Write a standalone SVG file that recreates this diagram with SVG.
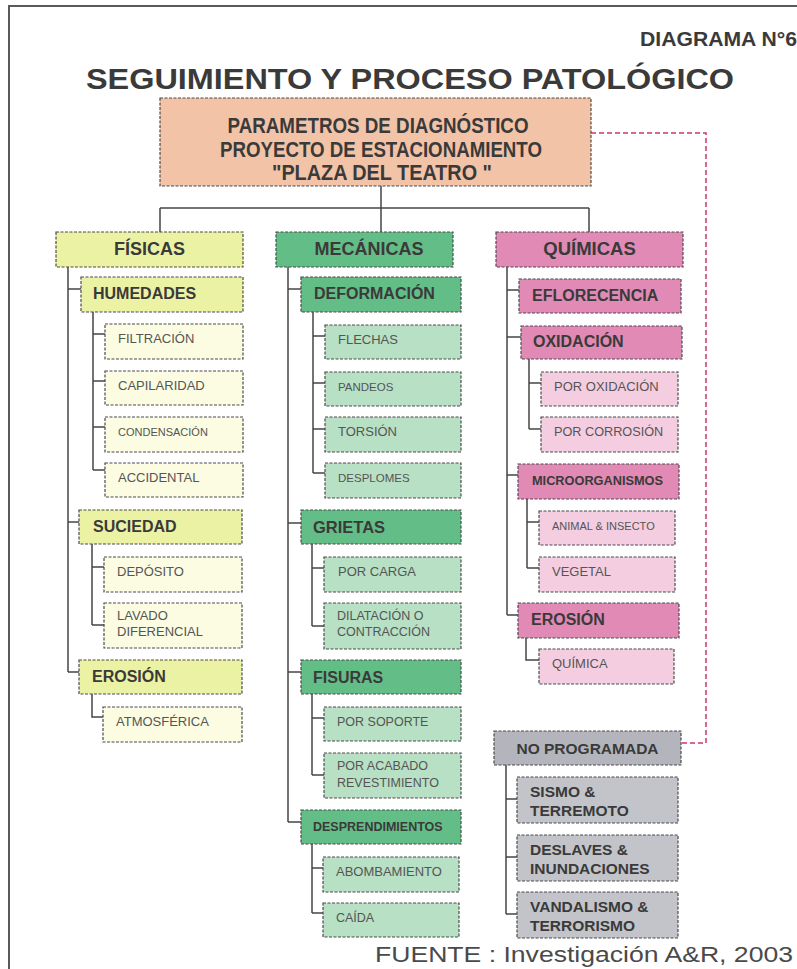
<svg xmlns="http://www.w3.org/2000/svg" width="797" height="969" viewBox="0 0 797 969">
  <style>
    text { font-family: "Liberation Sans", Arial, sans-serif; }
    .box { stroke: #4b4b4b; stroke-width: 1.2; stroke-dasharray: 3 1.5; }
    .root { fill: #f2c3a7; }
    .f1 { fill: #ecf2a4; }
    .f3 { fill: #fbfce2; }
    .m1 { fill: #63bd86; }
    .m3 { fill: #b7e0c4; }
    .q1 { fill: #e08ab5; }
    .q3 { fill: #f4cee0; }
    .g1 { fill: #b4b5bc; }
    .g2 { fill: #c3c4c9; }
    .t0 { font-weight: bold; font-size: 22px; fill: #3a3a3a; text-anchor: middle; }
    .t1 { font-weight: bold; font-size: 18px; fill: #3a3a3a; text-anchor: middle; }
    .t2 { font-weight: bold; font-size: 16px; fill: #3a3a3a; }
    .t3 { font-size: 13px; fill: #555555; }
    .tg { font-weight: bold; font-size: 15.5px; fill: #3a3a3a; }
    .conn { stroke: #454545; stroke-width: 1.5; fill: none; }
    .dash { stroke: #d0346a; stroke-width: 1.5; stroke-dasharray: 5 3; fill: none; }
  </style>

  <rect width="797" height="969" fill="#ffffff"/>
  <!-- page frame -->
  <path d="M9,969 V6 H797" fill="none" stroke="#5a5a5a" stroke-width="2"/>

  <!-- headings -->
  <text x="797" y="46" style="font-weight:bold;font-size:21px" fill="#3a3a3a" text-anchor="end" textLength="157" lengthAdjust="spacingAndGlyphs">DIAGRAMA N°6</text>
  <text x="86" y="89" style="font-weight:bold;font-size:29px" fill="#3a3a3a" textLength="648" lengthAdjust="spacingAndGlyphs">SEGUIMIENTO Y PROCESO PATOLÓGICO</text>
  <text x="375" y="962" style="font-size:22px" fill="#4a4a4a" textLength="418" lengthAdjust="spacingAndGlyphs">FUENTE : Investigación A&amp;R, 2003</text>

  <!-- connectors -->
  <g id="connectors">
    <path class="conn" d="M381,186 V208 M160,208 H589 M160,208 V232 M381,208 V232 M589,208 V232"/>
    <!-- físicas -->
    <path class="conn" d="M68,267 V672 M68,289 H81 M68,522 H79 M68,672 H79"/>
    <path class="conn" d="M93,312 V470 M93,334 H105 M93,381 H105 M93,427 H105 M93,470 H105"/>
    <path class="conn" d="M92,544 V625 M92,567 H104 M92,625 H104"/>
    <path class="conn" d="M92,694 V717 H103"/>
    <!-- mecánicas -->
    <path class="conn" d="M288,267 V822 M288,289 H301 M288,523 H301 M288,672 H301 M288,822 H301"/>
    <path class="conn" d="M313,312 V473 M313,336 H325 M313,383 H325 M313,429 H325 M313,473 H325"/>
    <path class="conn" d="M312,544 V626 M312,568 H324 M312,626 H324"/>
    <path class="conn" d="M312,694 V775 M312,718 H324 M312,775 H324"/>
    <path class="conn" d="M312,844 V913 M312,868 H323 M312,913 H323"/>
    <!-- químicas -->
    <path class="conn" d="M507,267 V615 M507,290 H519 M507,337 H521 M507,475 H518 M507,615 H518"/>
    <path class="conn" d="M529,359 V429 M529,383 H541 M529,429 H541"/>
    <path class="conn" d="M527,499 V568 M527,522 H539 M527,568 H539"/>
    <path class="conn" d="M526,638 V660 H539"/>
    <!-- no programada -->
    <path class="conn" d="M506,765 V914 M506,799 H517 M506,857 H517 M506,914 H517"/>
    <path class="dash" d="M591,133 H706 V743 H681"/>
  </g>

  <!-- root -->
  <g id="root">
    <rect class="box root" x="160" y="98" width="431" height="88"/>
    <text class="t0" x="378" y="133" textLength="301" lengthAdjust="spacingAndGlyphs">PARAMETROS DE DIAGNÓSTICO</text>
    <text class="t0" x="381" y="157" textLength="322" lengthAdjust="spacingAndGlyphs">PROYECTO DE ESTACIONAMIENTO</text>
    <text class="t0" x="382" y="180" textLength="220" lengthAdjust="spacingAndGlyphs">"PLAZA DEL TEATRO "</text>
  </g>

  <!-- FÍSICAS -->
  <g id="fisicas"><rect class="box f1" x="56" y="232" width="187" height="35"/><text class="t1" x="149.5" y="255">FÍSICAS</text></g>
  <g id="humedades"><rect class="box f1" x="81" y="277" width="162" height="35"/><text class="t2" x="93" y="299">HUMEDADES</text></g>
  <g id="filtracion"><rect class="box f3" x="105" y="324" width="138" height="35"/><text class="t3" x="118" y="343">FILTRACIÓN</text></g>
  <g id="capilaridad"><rect class="box f3" x="105" y="371" width="138" height="34"/><text class="t3" x="118" y="390">CAPILARIDAD</text></g>
  <g id="condensacion"><rect class="box f3" x="105" y="417" width="138" height="35"/><text class="t3" x="118" y="436" style="font-size:11px">CONDENSACIÓN</text></g>
  <g id="accidental"><rect class="box f3" x="105" y="463" width="138" height="34"/><text class="t3" x="118" y="482">ACCIDENTAL</text></g>
  <g id="suciedad"><rect class="box f1" x="79" y="510" width="163" height="34"/><text class="t2" x="93" y="532">SUCIEDAD</text></g>
  <g id="deposito"><rect class="box f3" x="104" y="557" width="138" height="35"/><text class="t3" x="117" y="576">DEPÓSITO</text></g>
  <g id="lavado"><rect class="box f3" x="104" y="603" width="138" height="45"/><text class="t3" x="117" y="620">LAVADO</text><text class="t3" x="117" y="636">DIFERENCIAL</text></g>
  <g id="erosion-f"><rect class="box f1" x="79" y="660" width="163" height="34"/><text class="t2" x="92" y="682">EROSIÓN</text></g>
  <g id="atmosferica"><rect class="box f3" x="103" y="707" width="139" height="35"/><text class="t3" x="116" y="726">ATMOSFÉRICA</text></g>

  <!-- MECÁNICAS -->
  <g id="mecanicas"><rect class="box m1" x="276" y="232" width="177" height="35"/><text class="t1" x="369" y="255">MECÁNICAS</text></g>
  <g id="deformacion"><rect class="box m1" x="301" y="277" width="160" height="35"/><text class="t2" x="314" y="299">DEFORMACIÓN</text></g>
  <g id="flechas"><rect class="box m3" x="325" y="325" width="136" height="34"/><text class="t3" x="338" y="344">FLECHAS</text></g>
  <g id="pandeos"><rect class="box m3" x="325" y="372" width="136" height="34"/><text class="t3" x="338" y="391" style="font-size:11.5px">PANDEOS</text></g>
  <g id="torsion"><rect class="box m3" x="325" y="417" width="136" height="35"/><text class="t3" x="338" y="436">TORSIÓN</text></g>
  <g id="desplomes"><rect class="box m3" x="325" y="463" width="136" height="35"/><text class="t3" x="338" y="482" style="font-size:11.5px">DESPLOMES</text></g>
  <g id="grietas"><rect class="box m1" x="301" y="510" width="160" height="34"/><text class="t2" x="313" y="533" style="font-size:16.5px">GRIETAS</text></g>
  <g id="por-carga"><rect class="box m3" x="324" y="557" width="137" height="35"/><text class="t3" x="338" y="576">POR CARGA</text></g>
  <g id="dilatacion"><rect class="box m3" x="324" y="603" width="137" height="46"/><text class="t3" x="337" y="620" style="font-size:12.5px">DILATACIÓN O</text><text class="t3" x="337" y="636" style="font-size:12.5px">CONTRACCIÓN</text></g>
  <g id="fisuras"><rect class="box m1" x="301" y="660" width="160" height="34"/><text class="t2" x="313" y="683">FISURAS</text></g>
  <g id="por-soporte"><rect class="box m3" x="324" y="707" width="137" height="34"/><text class="t3" x="337" y="726" style="font-size:12.5px">POR SOPORTE</text></g>
  <g id="por-acabado"><rect class="box m3" x="324" y="753" width="137" height="45"/><text class="t3" x="337" y="770" style="font-size:12.5px">POR ACABADO</text><text class="t3" x="337" y="787" style="font-size:12.5px">REVESTIMIENTO</text></g>
  <g id="desprendimientos"><rect class="box m1" x="301" y="810" width="160" height="34"/><text class="t2" x="313" y="831" style="font-size:12.5px">DESPRENDIMIENTOS</text></g>
  <g id="abombamiento"><rect class="box m3" x="323" y="857" width="136" height="35"/><text class="t3" x="336" y="876">ABOMBAMIENTO</text></g>
  <g id="caida"><rect class="box m3" x="323" y="903" width="136" height="34"/><text class="t3" x="336" y="922" style="font-size:12.5px">CAÍDA</text></g>

  <!-- QUÍMICAS -->
  <g id="quimicas"><rect class="box q1" x="496" y="232" width="187" height="35"/><text class="t1" x="589.5" y="255" style="font-size:18.5px">QUÍMICAS</text></g>
  <g id="eflorecencia"><rect class="box q1" x="519" y="279" width="162" height="34"/><text class="t2" x="532" y="301">EFLORECENCIA</text></g>
  <g id="oxidacion"><rect class="box q1" x="521" y="326" width="161" height="33"/><text class="t2" x="533" y="347">OXIDACIÓN</text></g>
  <g id="por-oxidacion"><rect class="box q3" x="541" y="372" width="137" height="34"/><text class="t3" x="554" y="391">POR OXIDACIÓN</text></g>
  <g id="por-corrosion"><rect class="box q3" x="541" y="417" width="137" height="35"/><text class="t3" x="554" y="436" style="font-size:12.7px">POR CORROSIÓN</text></g>
  <g id="microorganismos"><rect class="box q1" x="518" y="464" width="161" height="35"/><text class="t2" x="532" y="485" style="font-size:12.5px" textLength="131" lengthAdjust="spacingAndGlyphs">MICROORGANISMOS</text></g>
  <g id="animal"><rect class="box q3" x="539" y="511" width="136" height="34"/><text class="t3" x="552" y="530" style="font-size:11px">ANIMAL &amp; INSECTO</text></g>
  <g id="vegetal"><rect class="box q3" x="539" y="557" width="136" height="35"/><text class="t3" x="552" y="576">VEGETAL</text></g>
  <g id="erosion-q"><rect class="box q1" x="518" y="603" width="161" height="35"/><text class="t2" x="531" y="625">EROSIÓN</text></g>
  <g id="quimica"><rect class="box q3" x="539" y="649" width="135" height="35"/><text class="t3" x="552" y="668">QUÍMICA</text></g>

  <!-- NO PROGRAMADA -->
  <g id="no-programada"><rect class="box g1" x="494" y="731" width="187" height="34"/><text class="t1" x="587.5" y="754" style="font-size:15.5px">NO PROGRAMADA</text></g>
  <g id="sismo"><rect class="box g2" x="517" y="777" width="161" height="46"/><text class="tg" x="530" y="797">SISMO &amp;</text><text class="tg" x="530" y="816">TERREMOTO</text></g>
  <g id="deslaves"><rect class="box g2" x="517" y="835" width="161" height="46"/><text class="tg" x="530" y="855">DESLAVES &amp;</text><text class="tg" x="530" y="874">INUNDACIONES</text></g>
  <g id="vandalismo"><rect class="box g2" x="517" y="892" width="161" height="46"/><text class="tg" x="530" y="912">VANDALISMO &amp;</text><text class="tg" x="530" y="931">TERRORISMO</text></g>
</svg>
